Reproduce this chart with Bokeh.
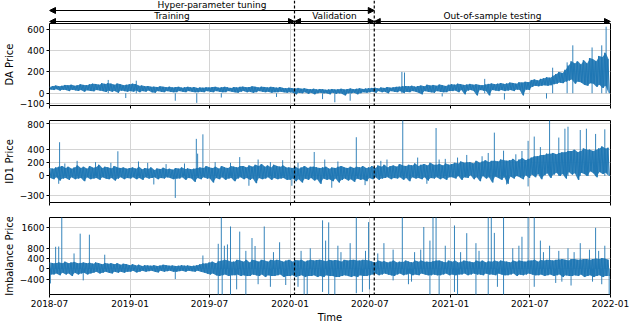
import numpy as np
import pandas as pd
from bokeh.plotting import figure
from bokeh.layouts import column
from bokeh.models import (Range1d, FixedTicker, DatetimeTickFormatter, Span, Arrow, NormalHead,
                          CustomLabelingPolicy)
from bokeh.embed import file_html
from bokeh.resources import INLINE
from bokeh.core.properties import value

# ---------------- data ----------------
series_start = "2018-07-01"      # first weekly sample of the price band
x_start, x_end = "2018-07-01", "2022-01-01"
val_start, val_end = "2020-01-11", "2020-07-11"

x_tick_labels = ["2018-07", "2019-01", "2019-07", "2020-01", "2020-07", "2021-01", "2021-07", "2022-01"]
da_ticks = [-100, 0, 200, 400, 600]
id1_ticks = [-300, 0, 200, 400, 800]
imb_ticks = [-400, 0, 400, 800, 1600]

# ---- DA price: weekly upper / lower edge of the dense band ----
da_band_hi = [62, 68, 72, 65, 70, 78, 74, 80, 70, 75, 85, 78, 76, 84, 90, 86, 80, 95, 88, 95, 90, 80, 92, 85, 75, 80,
              85, 90, 85, 70, 72, 65, 68, 60, 62, 58, 65, 60, 56, 62, 55, 58, 60, 52, 56, 60, 54, 58, 50, 55, 52, 56,
              54, 58, 60, 52, 56, 60, 55, 50, 58, 54, 60, 62, 56, 58, 65, 60, 55, 62, 58, 54, 60, 56, 52, 58, 50, 48,
              52, 48, 45, 50, 42, 46, 40, 38, 42, 35, 40, 38, 32, 36, 40, 35, 38, 42, 36, 40, 45, 38, 42, 46, 40, 44,
              48, 50, 52, 45, 55, 50, 58, 52, 56, 60, 62, 66, 68, 65, 70, 62, 68, 72, 66, 80, 72, 78, 70, 82, 75, 68, 80,
              85, 80, 90, 84, 78, 82, 88, 80, 84, 78, 75, 82, 88, 92, 85, 90, 96, 88, 92, 100, 96, 90, 104, 100, 108, 104,
              125, 130, 120, 135, 140, 150, 145, 165, 180, 200, 190, 220, 260, 300, 280, 300, 270, 310, 280, 330, 320, 300, 350, 340, 380, 320]
da_band_lo = [35, 30, 38, 25, 32, 30, 20, 32, 28, 22, 30, 15, 28, 22, 18, 30, 25, 20, 12, 25, 15, 20, 5, 25, 20, 15,
              20, 15, 25, 10, 20, 15, 25, 10, 5, 20, 15, 10, 20, 15, 10, 10, 20, 15, 10, 20, 15, 10, 10, 15, 10, 20,
              15, 10, 20, 15, 10, 10, 20, 15, 10, 5, 15, 20, 10, 15, 5, 10, 20, 15, 10, 15, 5, 10, 10, 15, 10, 5,
              10, 5, -10, 5, 0, 10, -5, 5, -10, 0, 5, 0, 0, -10, 5, -5, 0, -5, -20, 0, 0, 5, -10, 0, 10, 5,
              10, 15, 5, 20, 10, 15, 0, 20, 15, 10, 20, 5, 15, 10, 20, 15, 5, -10, 20, 15, 10, 5, 20, 15, 10, 10, 20,
              20, 25, 10, 30, -10, 25, 30, 20, -20, 30, 25, 20, -20, 30, 25, 20, 30, 20, 25, 30, 20, 35, 30, -20, 35, 30,
              60, 70, 65, 70, 75, 70, 75, 85, 90, 100, 95, 110, 120, 130, 90, 110, 100, 80, 70, 95, 90, 60, 80, 50, 70, 0]
da_spike_dates = ["2018-11-12", "2019-01-15", "2020-09-12", "2020-09-18", "2021-03-20", "2021-08-22", "2021-09-24",
                  "2021-10-07", "2021-11-20", "2021-12-12", "2021-12-22",
                  "2018-12-22", "2019-04-14", "2019-06-02", "2019-07-28", "2019-12-01", "2020-03-15", "2020-04-12",
                  "2020-05-17", "2020-12-13", "2021-05-04", "2021-08-08"]
da_spike_values = [125, 118, 200, 195, 135, 240, 290, 450, 430, 450, 625,
                   -45, -70, -90, -40, -35, -55, -85, -70, -30, -60, -50]

# ---- ID1 price ----
id1_band_hi = [120, 110, 130, 140, 150, 120, 140, 110, 130, 160, 120, 140, 110, 150, 125, 135, 170, 120, 140, 130, 115, 150, 130, 120, 130, 110,
               120, 130, 110, 140, 100, 120, 110, 130, 90, 115, 105, 125, 100, 110, 95, 120, 110, 130, 105, 115, 100, 110, 120, 130, 120, 150,
               130, 120, 140, 110, 150, 130, 120, 150, 140, 130, 150, 150, 130, 160, 140, 170, 150, 180, 140, 160, 130, 170, 150, 140, 160, 130,
               130, 120, 140, 110, 130, 150, 120, 140, 140, 130, 120, 130, 140, 110, 130, 120, 140, 150, 130, 120, 140, 120, 140, 130, 150, 120,
               130, 150, 120, 160, 140, 170, 130, 150, 160, 140, 180, 160, 150, 170, 160, 190, 150, 170, 180, 160, 200, 170, 170, 180, 160, 190, 170,
               180, 200, 190, 220, 200, 210, 210, 190, 230, 200, 220, 240, 210, 230, 230, 220, 250, 240, 230, 240, 260, 220, 250, 270, 240, 260,
               280, 300, 300, 320, 320, 340, 340, 350, 330, 350, 360, 360, 380, 380, 400, 360, 380, 420, 400, 400, 380, 400, 420, 450, 420, 430]
id1_band_lo = [-30, -50, -20, -70, -40, -30, -60, -20, -50, -40, -30, -80, -20, -50, -40, -30, -60, -20, -40, -50, -30, -70, -40, -20, -50, -30,
               -40, -20, -50, -30, -60, -20, -40, -30, -20, -50, -30, -40, -20, -30, -50, -40, -40, -20, -60, -30, -40, -90, -30, -50, -20, -40,
               -40, -100, -30, -50, -20, -60, -40, -30, -80, -40, -20, -50, -30, -60, -40, -110, -30, -50, -40, -20, -60, -30, -50, -40, -30, -60,
               -60, -40, -80, -50, -100, -40, -60, -30, -70, -50, -120, -40, -60, -50, -80, -40, -100, -60, -40, -70, -50, -90, -40, -60, -50, -80,
               -30, -50, -20, -60, -40, -30, -20, -50, -30, -40, -20, -60, -30, -80, -20, -40, -30, -50, -20, -70, -30, -40, -20, -50, -30, -60, -20,
               -20, -40, 0, -60, -20, -30, 10, -50, -20, -80, 0, -40, -20, -100, -10, -30, -60, -20, -120, -10, -40, 0, -20, -50, 10, -30,
               20, -20, 30, -50, 10, 40, -30, 20, 50, 0, 30, -40, 60, 20, 40, -60, 50, 30, 0, 70, 40, -20, 60, 30, 50, 0]
id1_spike_dates = ["2018-07-24", "2018-08-05", "2018-09-02", "2018-10-14", "2018-11-18", "2018-12-04", "2019-01-20",
                   "2019-02-10", "2019-03-24", "2019-05-05", "2019-06-01", "2019-06-04", "2019-06-16", "2019-07-14",
                   "2019-08-18", "2019-09-08", "2019-10-20", "2019-11-17", "2019-12-15", "2020-01-19", "2020-02-25",
                   "2020-03-20", "2020-04-19", "2020-05-31", "2020-07-26", "2020-08-09", "2020-09-14", "2020-10-18",
                   "2020-11-29", "2020-12-06", "2020-12-20", "2021-01-17", "2021-02-07", "2021-03-14", "2021-03-28",
                   "2021-04-11", "2021-05-02", "2021-05-30", "2021-06-13", "2021-06-27", "2021-07-11", "2021-07-25",
                   "2021-08-15", "2021-09-05", "2021-09-19", "2021-09-26", "2021-10-24", "2021-11-07", "2021-11-28",
                   "2021-12-19",
                   "2018-07-22", "2019-02-24", "2019-04-14", "2019-09-29", "2020-01-05", "2020-04-05", "2020-06-20",
                   "2020-11-08", "2021-05-09", "2021-06-27"]
id1_spike_values = [514, 190, 230, 210, 200, 376, 220,
                    200, 180, 190, 565, 340, 634, 210,
                    200, 287, 250, 210, 240, 200, 365,
                    250, 220, 590, 230, 250, 900, 280,
                    730, 250, 260, 280, 320, 300, 350,
                    660, 385, 330, 380, 535, 600, 440,
                    900, 585, 720, 750, 700, 720, 640,
                    710,
                    -120, -130, -335, -150, -150, -180, -140,
                    -120, -130, -160]

# ---- Imbalance price ----
imb_band_hi = [250, 220, 230, 250, 220, 280, 220, 250, 270, 220, 230, 250, 220, 240, 200, 250, 220, 180, 230, 200, 220, 180, 220, 160, 200, 180,
               140, 180, 130, 160, 110, 140, 130, 120, 140, 110, 130, 160, 140, 120, 130, 110, 120, 140, 120, 130, 110, 120, 140, 180, 210, 210,
               250, 280, 220, 300, 320, 350, 320, 280, 280, 350, 320, 280, 350, 250, 350, 320, 280, 350, 320, 280, 350, 320, 350, 320, 280, 320,
               350, 280, 340, 320, 350, 280, 320, 350, 320, 340, 350, 320, 300, 350, 320, 340, 320, 280, 350, 320, 340, 350, 320, 320, 350, 340,
               320, 280, 250, 320, 280, 300, 250, 280, 320, 250, 280, 270, 320, 280, 250, 320, 280, 320, 280, 280, 270, 300, 320, 320, 280, 250, 320,
               280, 320, 250, 280, 320, 300, 280, 250, 320, 280, 320, 250, 300, 280, 320, 280, 320, 300, 280, 250, 320, 280, 320, 300, 280, 320,
               320, 350, 280, 340, 320, 350, 340, 320, 350, 360, 380, 350, 320, 380, 380, 350, 360, 380, 380, 350, 380, 400, 380, 420, 390, 350]
imb_band_lo = [-220, -220, -180, -250, -150, -220, -180, -280, -150, -220, -180, -150, -220, -180, -150, -110, -180, -150, -110, -150, -180, -110, -150, -110, -150, -110,
               -110, -70, -140, -110, -70, -110, -90, -70, -110, -140, -70, -110, -90, -70, -110, -110, -90, -70, -110, -70, -90, -110, -70, -110, -140, -180,
               -220, -180, -250, -280, -250, -220, -280, -250, -250, -220, -280, -250, -280, -280, -220, -250, -280, -220, -320, -250, -280, -280, -250, -220, -320, -280,
               -280, -250, -320, -280, -250, -320, -280, -280, -250, -320, -280, -320, -250, -280, -280, -320, -320, -280, -250, -280, -320, -280, -320, -250, -280, -280,
               -250, -220, -180, -250, -220, -180, -220, -250, -280, -220, -180, -250, -220, -180, -250, -220, -250, -180, -220, -250, -250, -220, -250, -250, -220, -180, -250,
               -220, -250, -220, -220, -180, -250, -220, -180, -220, -220, -250, -180, -220, -220, -250, -180, -220, -250, -250, -220, -180, -280, -220, -250, -220, -180,
               -220, -250, -250, -220, -280, -250, -220, -280, -250, -220, -320, -250, -280, -280, -250, -280, -220, -320, -280, -250, -320, -280, -250, -320, -280, -280]
imb_spike_dates = ["2018-07-15", "2018-07-22", "2018-07-29", "2018-08-26", "2018-09-09", "2018-09-30", "2018-11-04",
                   "2019-06-16", "2019-07-21", "2019-07-28", "2019-08-04", "2019-08-11", "2019-08-18", "2019-09-08",
                   "2019-09-22", "2019-10-06", "2019-10-13", "2019-11-03", "2019-11-24", "2019-12-08", "2020-01-26",
                   "2020-02-16", "2020-03-15", "2020-03-22", "2020-03-29", "2020-04-19", "2020-04-26", "2020-05-17",
                   "2020-05-31", "2020-06-21", "2020-06-28", "2020-07-19", "2020-08-02", "2020-08-23", "2020-09-13",
                   "2020-10-11", "2020-10-25", "2020-11-01", "2020-11-15", "2020-11-22", "2020-11-29", "2020-12-20",
                   "2021-01-10", "2021-01-24", "2021-02-07", "2021-02-28", "2021-03-07", "2021-03-28", "2021-04-04",
                   "2021-04-11", "2021-05-02", "2021-05-23", "2021-06-06", "2021-06-13", "2021-06-27", "2021-07-11",
                   "2021-07-25", "2021-08-01", "2021-08-15", "2021-09-05", "2021-09-26", "2021-10-10", "2021-10-24",
                   "2021-11-14", "2021-11-28", "2021-12-05", "2021-12-19",
                   "2018-07-03", "2018-09-16", "2019-04-14", "2019-07-21", "2019-07-30", "2019-08-18", "2019-09-01",
                   "2019-09-22", "2019-10-20", "2019-11-17", "2019-12-22", "2020-01-19", "2020-02-02", "2020-02-09",
                   "2020-03-15", "2020-03-29", "2020-04-12", "2020-05-31", "2020-06-14", "2020-06-30", "2020-08-23",
                   "2020-09-27", "2020-10-04", "2020-11-15", "2020-12-06", "2021-01-10", "2021-01-17", "2021-02-28",
                   "2021-03-28", "2021-04-18", "2021-05-02", "2021-07-11", "2021-08-29", "2021-09-12", "2021-10-03",
                   "2021-11-21", "2021-12-12", "2021-12-29"]
imb_spike_values = [860, 870, 2200, 600, 1370, 1330, 550,
                    520, 975, 2200, 900, 950, 1650, 1450,
                    700, 1200, 890, 1650, 650, 1035, 700,
                    800, 1890, 1100, 1810, 900, 650, 1000,
                    2200, 700, 1820, 600, 1000, 750, 2200,
                    650, 750, 1630, 1100, 2200, 2200, 900,
                    1690, 650, 1390, 1000, 700, 2200, 2200,
                    1400, 2200, 800, 900, 1250, 2200, 2200,
                    1100, 650, 900, 700, 800, 650, 1000,
                    750, 1600, 700, 900,
                    -570, -450, -400, -1100, -1100, -1100, -800,
                    -1100, -600, -700, -630, -700, -1100, -1000,
                    -900, -1100, -1100, -950, -900, -800, -450,
                    -600, -500, -1100, -1100, -900, -1100, -1100,
                    -1100, -700, -1100, -700, -550, -500, -650,
                    -500, -600, -1100]

# ---------------- helpers ----------------
FONT = "DejaVu Sans"
BLUE = "#1f77b4"
DAY_MS = 86400000.0


def ms(d):
    return pd.Timestamp(d).value / 1e6


x_range = Range1d(ms(x_start), ms(x_end))
x_ticks = [ms(t + "-01") for t in x_tick_labels]
W = 630
LEFT, RIGHT = 44, 20


def add_splits(p):
    for d in (val_start, val_end):
        p.add_layout(Span(location=ms(d), dimension="height", line_color="black",
                          line_dash="3 2", line_width=1.2))


def draw_series(p, band_hi, band_lo, spike_dates, spike_values):
    n = len(band_hi)
    t0 = ms(series_start) + np.arange(n) * 7 * DAY_MS
    # dense band
    p.varea(x=t0 + 1.75 * DAY_MS, y1=band_lo, y2=band_hi, fill_color=BLUE, fill_alpha=0.9)
    xs = np.empty(2 * n)
    ys = np.empty(2 * n)
    xs[0::2] = t0
    xs[1::2] = t0 + 3.5 * DAY_MS
    ys[0::2] = band_hi
    ys[1::2] = band_lo
    p.line(xs, ys, line_color=BLUE, line_width=1)
    # isolated spikes
    sx = [ms(d) for d in spike_dates]
    p.segment(x0=sx, y0=[0] * len(sx), x1=sx, y1=spike_values, line_color=BLUE,
              line_width=1, line_alpha=0.9)


def panel(ylabel, band_hi, band_lo, sp_d, sp_v, yr, yticks, bottom, show_labels):
    frame_h = 82
    p = figure(width=W, height=frame_h + bottom, x_axis_type="datetime", x_range=x_range,
               y_range=Range1d(*yr), output_backend="svg", toolbar_location=None,
               min_border_left=LEFT, min_border_right=RIGHT, min_border_top=0,
               min_border_bottom=bottom)
    draw_series(p, band_hi, band_lo, sp_d, sp_v)
    add_splits(p)
    p.xaxis.ticker = FixedTicker(ticks=x_ticks)
    p.xaxis.formatter = DatetimeTickFormatter(days="%Y-%m", months="%Y-%m", years="%Y-%m")
    if not show_labels:
        p.xaxis.major_label_policy = CustomLabelingPolicy(code="return new Set()")
    p.yaxis.ticker = FixedTicker(ticks=yticks)
    p.yaxis.major_label_overrides = {t: str(t).replace("-", "\u2212") for t in yticks}
    p.yaxis.axis_label = ylabel
    for ax in p.axis:
        ax.axis_line_color = None
        ax.major_tick_line_color = "black"
        ax.major_tick_out = 3
        ax.major_tick_in = 0
        ax.minor_tick_line_color = None
        ax.major_label_text_font = FONT
        ax.major_label_text_font_size = "9px"
        ax.major_label_text_color = "black"
        ax.major_label_standoff = 2
        ax.axis_label_text_font = FONT
        ax.axis_label_text_font_size = "10px"
        ax.axis_label_text_font_style = "normal"
        ax.axis_label_text_color = "black"
        ax.axis_label_standoff = 2
    p.grid.grid_line_color = "#d4d4d4"
    p.grid.grid_line_width = 1
    p.outline_line_color = "black"
    p.outline_line_width = 1
    p.outline_line_alpha = 1
    return p


# ---------------- annotation strip ----------------
ann = figure(width=W, height=23, x_axis_type="datetime", x_range=x_range, y_range=Range1d(0, 23),
             output_backend="svg", toolbar_location=None, x_axis_location=None,
             y_axis_location=None, min_border_left=LEFT, min_border_right=RIGHT,
             min_border_top=0, min_border_bottom=0)
ann.grid.visible = False
ann.outline_line_color = None
add_splits(ann)

periods = [("Hyper-parameter tuning", x_start, val_end, 13, 18.6),
           ("Training", x_start, val_start, 2, 7.6),
           ("Validation", val_start, val_end, 2, 7.6),
           ("Out-of-sample testing", val_end, x_end, 2, 7.6)]
for label, a, b, y_arrow, y_text in periods:
    ann.add_layout(Arrow(start=NormalHead(size=6, fill_color="black", line_color="black"),
                         end=NormalHead(size=6, fill_color="black", line_color="black"),
                         x_start=ms(a), y_start=y_arrow, x_end=ms(b), y_end=y_arrow,
                         line_color="black", line_width=1.2))
    ann.text(x=[(ms(a) + ms(b)) / 2], y=[y_text], text=[label], text_align="center",
             text_baseline="middle", text_font=value(FONT), text_font_size="9px",
             text_color="black")

p1 = panel("DA Price", da_band_hi, da_band_lo, da_spike_dates, da_spike_values,
           (-115, 655), da_ticks, 15, False)
p2 = panel("ID1 Price", id1_band_hi, id1_band_lo, id1_spike_dates, id1_spike_values,
           (-405, 845), id1_ticks, 15, False)
p3 = panel("Imbalance Price", imb_band_hi, imb_band_lo, imb_spike_dates, imb_spike_values,
           (-1000, 2000), imb_ticks, 26, True)
p3.xaxis.axis_label = "Time"

layout = column(ann, p1, p2, p3, spacing=0)
open("out.html", "w").write(file_html(layout, INLINE))
